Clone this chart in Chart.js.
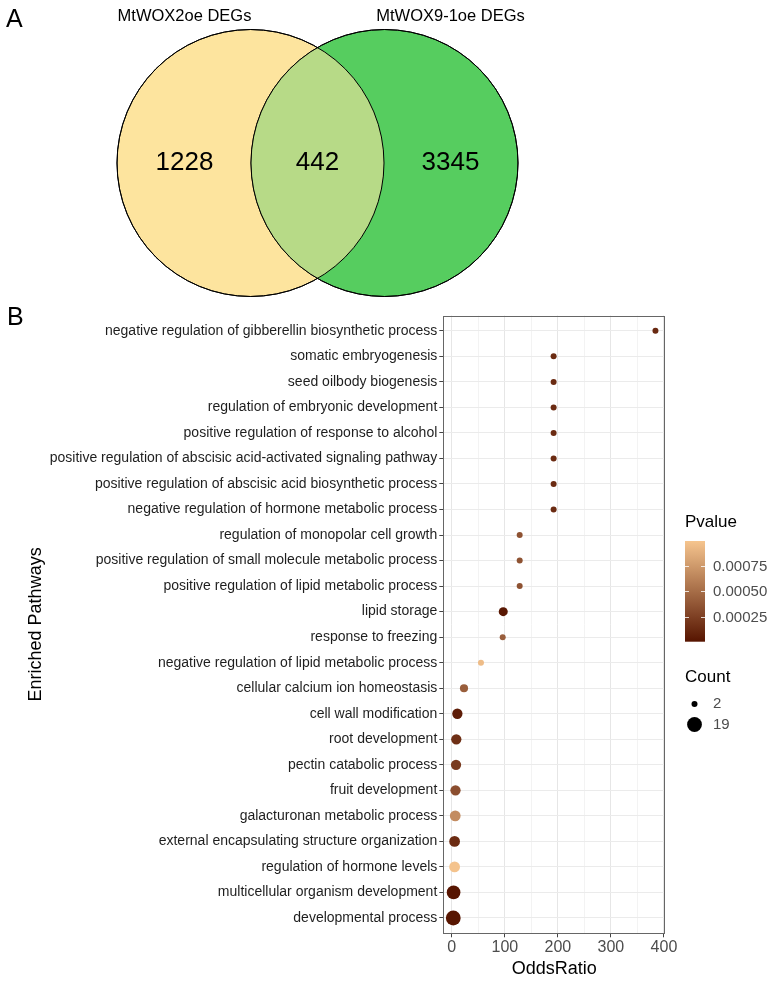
<!DOCTYPE html>
<html>
<head>
<meta charset="utf-8">
<script src="https://cdn.jsdelivr.net/npm/chart.js@4.4.0/dist/chart.umd.min.js"></script>
<style>
  html, body { margin: 0; padding: 0; background: #fff; }
  #venn { position: absolute; left: 0; top: 0; }
  #dots { position: absolute; left: 0; top: 300px; }
</style>
</head>
<body>
<canvas id="venn" width="773" height="300"></canvas>
<canvas id="dots" width="773" height="681"></canvas>
<script>
// ---- data: panel A (Venn)
const vennSets = ["MtWOX2oe DEGs", "MtWOX9-1oe DEGs"];
const vennOnly = [1228, 3345];
const vennShared = 442;

// ---- data: panel B (GO enrichment), top to bottom
const pathways = [
  "negative regulation of gibberellin biosynthetic process",
  "somatic embryogenesis",
  "seed oilbody biogenesis",
  "regulation of embryonic development",
  "positive regulation of response to alcohol",
  "positive regulation of abscisic acid-activated signaling pathway",
  "positive regulation of abscisic acid biosynthetic process",
  "negative regulation of hormone metabolic process",
  "regulation of monopolar cell growth",
  "positive regulation of small molecule metabolic process",
  "positive regulation of lipid metabolic process",
  "lipid storage",
  "response to freezing",
  "negative regulation of lipid metabolic process",
  "cellular calcium ion homeostasis",
  "cell wall modification",
  "root development",
  "pectin catabolic process",
  "fruit development",
  "galacturonan metabolic process",
  "external encapsulating structure organization",
  "regulation of hormone levels",
  "multicellular organism development",
  "developmental process"
];
const oddsRatio = [384, 192, 192, 192, 192, 192, 192, 192, 128, 128, 128, 97, 96, 55, 23, 10.5, 8.5, 8, 7, 6.5, 5.3, 5.3, 3.4, 2.8];
const geneCount = [2, 2, 2, 2, 2, 2, 2, 2, 2, 2, 2, 4, 2, 2, 3, 6, 6, 6, 6, 7, 7, 7, 15, 19];
const pValue = [0.00012, 0.00013, 0.00013, 0.00013, 0.00013, 0.00013, 0.00013, 0.00013,
                0.00035, 0.00035, 0.00035, 0.00002, 0.00042, 0.00095, 0.00042, 0.00005,
                0.00015, 0.00022, 0.00033, 0.00068, 0.00013, 0.00099, 0.000005, 0.00001];
const xTicks = [0, 50, 100, 150, 200, 250, 300, 350, 400];
const pBreaks = [0.00025, 0.0005, 0.00075];
const countBreaks = [2, 19];

// ---- styles
const FONT = "'Liberation Sans', Arial, sans-serif";
const P_MAX = 0.001;
const LOW = [86, 20, 0], HIGH = [246, 197, 142];

function pColor(p) {
  const t = Math.max(0, Math.min(1, p / P_MAX));
  const c = LOW.map((v, i) => Math.round(v + (HIGH[i] - v) * t));
  return "rgb(" + c.join(",") + ")";
}
// ggplot-like area scale for point size
function sizeFor(n) {
  const rMin = 3, rMax = 7.4;
  return rMin + (rMax - rMin) * Math.sqrt((n - 2) / (19 - 2));
}

// ---------------- Panel A ----------------
const VENN_R = 133.5;
const vennCenters = [250.5, 384.5];
const vennColors = ["#FDE49E", "#56CD5F"];
const overlapColor = "#B7DA87";

const vennPlugin = {
  id: "vennExtras",
  afterDatasetsDraw(chart) {
    const ctx = chart.ctx;
    const [a, b] = chart.getDatasetMeta(0).data;
    ctx.save();
    ctx.beginPath(); ctx.arc(a.x, a.y, VENN_R, 0, Math.PI * 2); ctx.clip();
    ctx.beginPath(); ctx.arc(b.x, b.y, VENN_R, 0, Math.PI * 2);
    ctx.fillStyle = overlapColor; ctx.fill();
    ctx.restore();

    ctx.save();
    ctx.strokeStyle = "#000"; ctx.lineWidth = 1;
    [a, b].forEach(p => { ctx.beginPath(); ctx.arc(p.x, p.y, VENN_R, 0, Math.PI * 2); ctx.stroke(); });

    ctx.fillStyle = "#000";
    ctx.textAlign = "center"; ctx.textBaseline = "middle";
    ctx.font = "16.5px " + FONT;
    ctx.fillText(vennSets[0], a.x - 66, 16);
    ctx.fillText(vennSets[1], b.x + 66, 16);
    ctx.font = "26px " + FONT;
    ctx.fillText(String(vennOnly[0]), a.x - 66, a.y);
    ctx.fillText(String(vennShared), (a.x + b.x) / 2, a.y);
    ctx.fillText(String(vennOnly[1]), b.x + 66, b.y);

    ctx.textAlign = "left"; ctx.textBaseline = "top";
    ctx.font = "25px " + FONT;
    ctx.fillText("A", 6, 8);
    ctx.restore();
  }
};

new Chart(document.getElementById("venn"), {
  type: "bubble",
  data: {
    datasets: [{
      data: vennCenters.map(x => ({ x: x, y: 163, r: VENN_R })),
      backgroundColor: vennColors,
      borderColor: "#000",
      borderWidth: 1,
      clip: false
    }]
  },
  options: {
    responsive: false,
    animation: false,
    events: [],
    layout: { padding: 0, autoPadding: false },
    plugins: { legend: { display: false }, tooltip: { enabled: false } },
    scales: {
      x: { type: "linear", min: 0, max: 773, display: false },
      y: { type: "linear", min: 0, max: 300, reverse: true, display: false }
    }
  },
  plugins: [vennPlugin]
});

// ---------------- Panel B ----------------
const framePlugin = {
  id: "frame",
  afterDatasetsDraw(chart) {
    const a = chart.chartArea, ctx = chart.ctx;
    ctx.save();
    ctx.strokeStyle = "#666"; ctx.lineWidth = 1;
    ctx.strokeRect(Math.round(a.left) + 0.5, Math.round(a.top) + 0.5,
                   Math.round(a.right - a.left) - 1, Math.round(a.bottom - a.top) - 1);
    ctx.restore();
  }
};

const legendPlugin = {
  id: "sideLegend",
  afterDraw(chart) {
    const ctx = chart.ctx;
    ctx.save();
    ctx.fillStyle = "#000";
    ctx.textAlign = "left"; ctx.textBaseline = "middle";
    ctx.font = "17px " + FONT;
    ctx.fillText("Pvalue", 685, 222);

    // colour bar
    const L = 685, R = 705, T = 241, B = 341.7;
    const grad = ctx.createLinearGradient(0, B, 0, T);
    for (let i = 0; i <= 10; i++) grad.addColorStop(i / 10, pColor(P_MAX * i / 10));
    ctx.fillStyle = grad;
    ctx.fillRect(L, T, R - L, B - T);
    ctx.strokeStyle = "rgba(255,255,255,0.8)"; ctx.lineWidth = 1;
    ctx.font = "15px " + FONT;
    pBreaks.forEach(v => {
      const y = Math.round(B - v / P_MAX * (B - T)) + 0.5;
      ctx.beginPath();
      ctx.moveTo(L, y); ctx.lineTo(L + 4, y);
      ctx.moveTo(R - 4, y); ctx.lineTo(R, y);
      ctx.stroke();
      ctx.fillStyle = "#4d4d4d";
      ctx.fillText(v.toFixed(5), 713, y);
    });

    // size legend
    ctx.fillStyle = "#000";
    ctx.font = "17px " + FONT;
    ctx.fillText("Count", 685, 377);
    ctx.font = "15px " + FONT;
    countBreaks.forEach((n, i) => {
      const y = 404 + i * 20.5;
      ctx.fillStyle = "#000";
      ctx.beginPath(); ctx.arc(694.5, y, sizeFor(n), 0, Math.PI * 2); ctx.fill();
      ctx.fillStyle = "#4d4d4d";
      ctx.fillText(String(n), 713, y);
    });

    ctx.fillStyle = "#000";
    ctx.textBaseline = "top";
    ctx.font = "25px " + FONT;
    ctx.fillText("B", 7, 6);
    ctx.restore();
  }
};

new Chart(document.getElementById("dots"), {
  type: "bubble",
  data: {
    datasets: [{
      data: pathways.map((name, i) => ({ x: oddsRatio[i], y: i, r: sizeFor(geneCount[i]) })),
      backgroundColor: pValue.map(pColor),
      borderWidth: 0
    }]
  },
  options: {
    responsive: false,
    animation: false,
    events: [],
    layout: { padding: { top: 15.5, right: 108, left: 0, bottom: 0 }, autoPadding: false },
    plugins: { legend: { display: false }, tooltip: { enabled: false } },
    scales: {
      x: {
        type: "linear", min: -16, max: 402,
        afterBuildTicks: s => { s.ticks = xTicks.map(v => ({ value: v })); },
        afterFit: s => { s.height = 47.7; },
        ticks: {
          autoSkip: false, maxRotation: 0, padding: 1,
          color: "#4d4d4d", font: { family: FONT, size: 16 },
          callback: v => (v % 100 === 0 ? String(v) : "")
        },
        grid: {
          color: c => (c.tick && c.tick.value % 100 === 0 ? "#e6e6e6" : "#f3f3f3"),
          tickColor: c => (c.tick && c.tick.value % 100 === 0 ? "#444" : "rgba(0,0,0,0)"),
          tickLength: 4
        },
        border: { display: false },
        title: {
          display: true, text: "OddsRatio", color: "#000",
          font: { family: FONT, size: 18 }, padding: { top: 0, bottom: 1 }
        }
      },
      y: {
        type: "linear", reverse: true, min: -0.6, max: 23.6,
        afterBuildTicks: s => { s.ticks = pathways.map((p, i) => ({ value: i })); },
        afterFit: s => { s.width = 443.3; },
        ticks: {
          autoSkip: false, padding: 2,
          color: "#1e1e1e", font: { family: FONT, size: 14 },
          callback: v => pathways[v]
        },
        grid: { color: "#ebebeb", tickColor: "#444", tickLength: 4 },
        border: { display: false },
        title: {
          display: true, text: "Enriched Pathways", color: "#000",
          font: { family: FONT, size: 18 }, padding: { top: 25, bottom: 0 }
        }
      }
    }
  },
  plugins: [framePlugin, legendPlugin]
});
</script>
</body>
</html>
